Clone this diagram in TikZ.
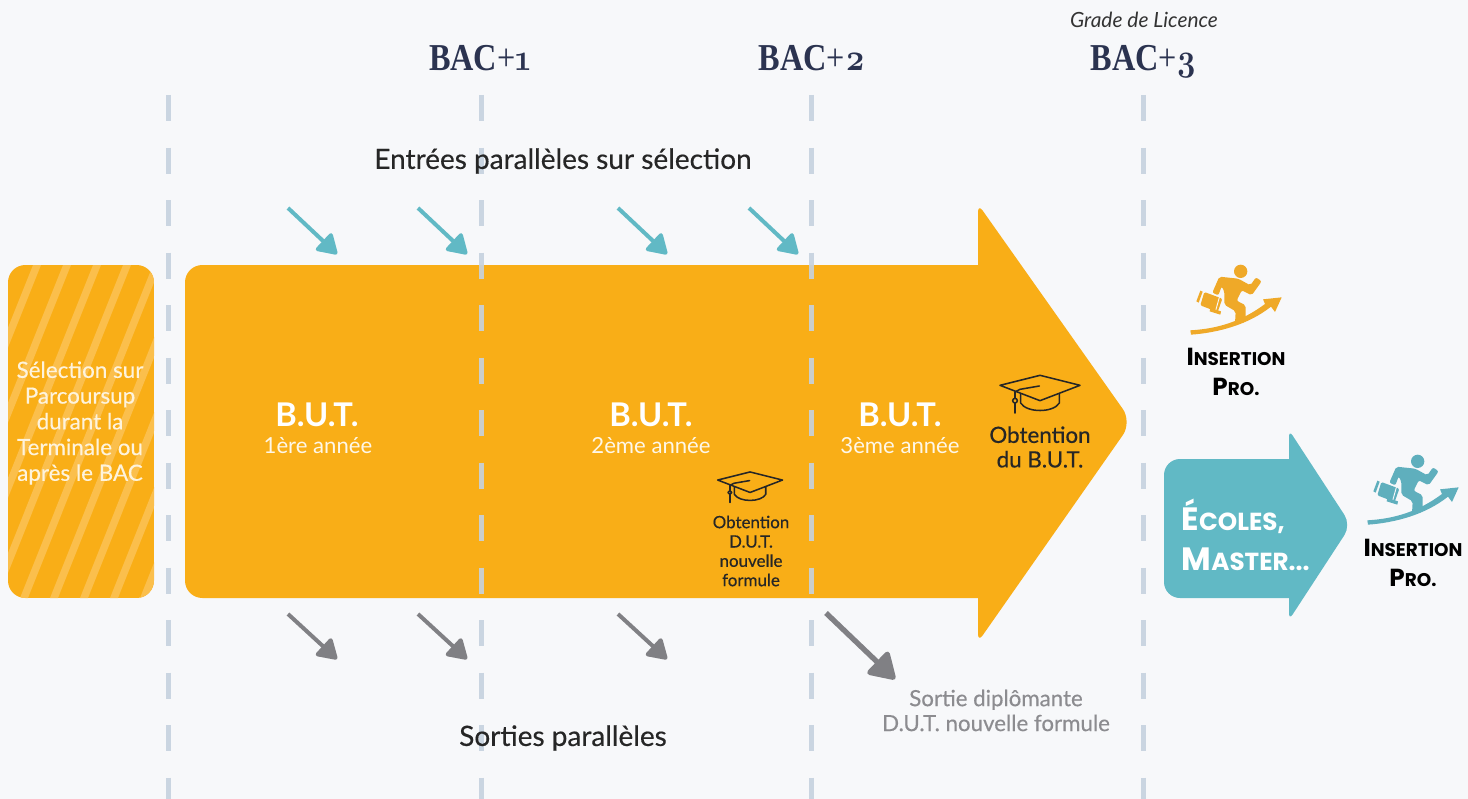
\documentclass[tikz,border=0pt]{standalone}
\usepackage{fontspec}
\setmainfont{Lato}
\newfontfamily\medf{Lato}[FakeBold=0.4]
\newfontfamily\scf{Poppins}
\newfontfamily\bacf{Liberation Serif}[FakeStretch=0.85]
\newfontfamily\digf{Latin Modern Roman}[Numbers=OldStyle,FakeStretch=0.85]
\usetikzlibrary{arrows.meta}
\definecolor{bgc}{HTML}{F7F8FA}
\definecolor{orangeF}{HTML}{F9AE17}
\definecolor{stripeF}{HTML}{FBBF4C}
\definecolor{tealF}{HTML}{61B9C5}
\definecolor{dashC}{HTML}{C6D2DF}
\definecolor{grayA}{HTML}{808084}
\definecolor{grayT}{HTML}{8C8C90}
\definecolor{navyT}{HTML}{2B3350}
\definecolor{runO}{HTML}{EFA928}
\definecolor{runT}{HTML}{5FAFBD}
\tikzset{
  x=0.75pt,y=-0.75pt,
  axisline/.style={dashC,opacity=.9,line width=3.75pt,dash pattern=on 19.5pt off 19.875pt},
  inarrow/.style={tealF,line width=3pt,-{Triangle[round,length=16pt,width=19pt]},shorten >=1pt},
  outarrow/.style={grayA,line width=3pt,-{Triangle[round,length=16pt,width=19pt]},shorten >=1pt},
  bigout/.style={grayA,line width=4pt,-{Triangle[round,length=21pt,width=25pt]},shorten >=1pt},
  bac/.style={navyT,anchor=base,font=\bacf\fontsize{28.5}{29}\selectfont},
  heading/.style={black!85,font=\medf\fontsize{21}{25}\selectfont},
  but/.style={white,font=\bfseries\fontsize{24.5}{28}\selectfont},
  butsub/.style={white!90!orangeF,font=\fontsize{16.6}{18}\selectfont},
  leftt/.style={white!85!orangeF,align=center,font=\medf\fontsize{16.8}{19.3}\selectfont},
  capt/.style={black!85,align=center,font=\medf\fontsize{16.8}{18.4}\selectfont},
  capts/.style={black!85,align=center,font=\medf\fontsize{12.7}{14.5}\selectfont},
  greyt/.style={grayT,align=center,font=\medf\fontsize{16.7}{18.7}\selectfont},
  inst/.style={black,align=center,font=\scf\bfseries\fontsize{13.8}{22.5}\selectfont},
  ecole/.style={white,align=left,anchor=west,font=\scf\bfseries\fontsize{18.5}{30}\selectfont},
}
\newcommand{\runner}[3]{%
\begin{scope}[shift={(#1,#2)},scale=1/3]
 \fill[#3] (167,40) circle (20);
 \fill[#3,rounded corners=1.5pt] (103,56) -- (160,62) -- (196,82) -- (213,58) -- (230,70) -- (200,112) -- (170,97) -- (155,128) -- (182,142) -- (182,192) -- (150,196) -- (152,160) -- (118,140) -- (118,100) -- (110,85) -- (100,112) -- (82,104) -- cycle;
 \fill[#3,rounded corners=1pt] (58,102) -- (112,122) -- (98,162) -- (46,142) -- cycle;
 \draw[bgc,line width=.7pt] (108,100) -- (90,165);
 \fill[#3] (46,98) -- (53,101) -- (41,134) -- (34,130) -- cycle;
 \fill[#3] (76,150) -- (108,160) -- (106,170) -- (74,160) -- cycle;
 \fill[#3] (16,217) .. controls (100,212) and (170,190) .. (240,138) -- (234,124) -- (290,118) -- (270,162) -- (258,146) .. controls (190,200) and (100,224) .. (18,230) -- cycle;
\end{scope}}
\newcommand{\gradcap}[3]{%
\begin{scope}[shift={(#1,#2)},scale=#3/3,line width=1.15pt,black!85,line join=round,line cap=round]
 \draw (30,52) -- (150,22) -- (270,52) -- (150,98) -- cycle;
 \draw (75,72) -- (90,64) -- (148,54);
 \draw (75,72) -- (75,135);
 \draw[fill=orangeF] (75,98) circle (7);
 \draw (92,78) -- (92,105) .. controls (110,135) and (190,135) .. (208,105) -- (208,78);
\end{scope}}
\begin{document}
\begin{tikzpicture}
\path[use as bounding box,fill=bgc] (0,0) rectangle (1468,799);

% left box
\begin{scope}
\path[clip,rounded corners=13pt] (8,265) rectangle (154,598);
\fill[orangeF] (8,265) rectangle (154,598);
\foreach \k in {-1,...,9}
  \fill[stripeF] ({33+30*\k},265) -- ({41+30*\k},265) -- ({41+30*\k-133},598) -- ({33+30*\k-133},598) -- cycle;
\end{scope}
\node[leftt] (sel) at (80,423) {Sélection sur\\Parcoursup\\durant la\\Terminale ou\\après le BAC};

% main arrow
\fill[orangeF,rounded corners=13pt] (600,265) -- (185,265) -- (185,598) -- (600,598) [sharp corners] -- (978,598) [rounded corners=6pt] -- (978,642) [rounded corners=12pt] -- (1132,422) [rounded corners=6pt] -- (978,204) [sharp corners] -- (978,265) -- cycle;

% teal arrow
\fill[tealF,rounded corners=12pt] (1230,459) -- (1164,459) -- (1164,598) -- (1230,598) [sharp corners] -- (1289,598) [rounded corners=5pt] -- (1289,620) [rounded corners=9pt] -- (1351,525) [rounded corners=5pt] -- (1289,430) [sharp corners] -- (1289,459) -- cycle;

% vertical dashed axes
\foreach \n/\xx in {a/168,b/481,c/811,d/1143}{
  \coordinate (\n t) at (\xx,95);
  \coordinate (\n b) at (\xx,799);
  \draw[axisline] (\n t) -- (\n b);
}

% headers
\node[bac] (b1) at (480,71) {\textbf{BAC}+{\digf\bfseries 1}};
\node[bac] (b2) at (812,71) {\textbf{BAC}+{\digf\bfseries 2}};
\node[bac] (b3) at (1144,71) {\textbf{BAC}+{\digf\bfseries 3}};
\node[black!80,font=\itshape\fontsize{15.7}{17}\selectfont] (grade) at (1144,20) {Grade de Licence};
\node[heading] (ent) at (563,161) {Entrées parallèles sur sélection};
\node[heading] (sor) at (563,738) {Sorties parallèles};

% year labels
\node[but] (but1) at (317,415) {B.U.T.};
\node[butsub] (an1) at (318,446) {1ère année};
\node[but] (but2) at (651,415) {B.U.T.};
\node[butsub] (an2) at (651,446) {2ème année};
\node[but] (but3) at (900,415) {B.U.T.};
\node[butsub] (an3) at (900,446) {3ème année};

\gradcap{990}{368}{1}
\node[capt] (obt) at (1040,447) {Obtention\\du B.U.T.};
\gradcap{709.6}{466}{0.81}
\node[capts] (obd) at (751,551) {Obtention\\D.U.T.\\nouvelle\\formule};

% in arrows
\foreach \n/\ax/\ay/\bx/\by in {i1/288/208/338/255,i2/418/208/468/255,i3/618/208/668/255,i4/749/208/799/255}{
  \coordinate (\n s) at (\ax,\ay);
  \coordinate (\n e) at (\bx,\by);
  \draw[inarrow] (\n s) -- (\n e);
}
% out arrows
\foreach \n/\ax/\ay/\bx/\by in {o1/288/614/338/660,o2/418/614/468/660,o3/618/614/668/660}{
  \coordinate (\n s) at (\ax,\ay);
  \coordinate (\n e) at (\bx,\by);
  \draw[outarrow] (\n s) -- (\n e);
}
\coordinate (o4s) at (826,613);
\coordinate (o4e) at (896,680);
\draw[bigout] (o4s) -- (o4e);
\node[greyt] (sd) at (996,710.5) {Sortie diplômante\\D.U.T. nouvelle formule};

% right side
\runner{1185}{258}{runO}
\node[inst] (ip1) at (1236,372) {{\fontsize{18.5}{22.5}\selectfont I}NSERTION\\{\fontsize{18.5}{22.5}\selectfont P}RO.};
\node[ecole] (ec) at (1177,535) {{\fontsize{24.2}{30}\selectfont É}COLES,\\{\fontsize{24.2}{30}\selectfont M}ASTER...};
\runner{1362}{448}{runT}
\node[inst] (ip2) at (1413,563) {{\fontsize{18.5}{22.5}\selectfont I}NSERTION\\{\fontsize{18.5}{22.5}\selectfont P}RO.};
\end{tikzpicture}
\end{document}
